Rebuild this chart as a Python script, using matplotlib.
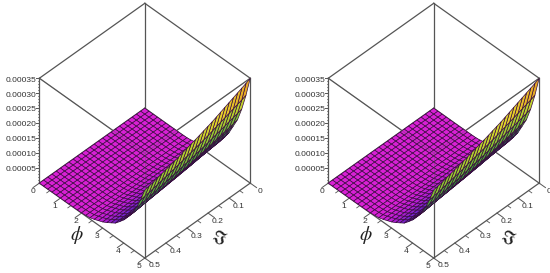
import numpy as np
import matplotlib
matplotlib.use('Agg')
import matplotlib.pyplot as plt
from matplotlib.colors import LinearSegmentedColormap
from mpl_toolkits.mplot3d import proj3d

plt.rcParams['font.family'] = ['Liberation Sans', 'DejaVu Sans']
plt.rcParams['mathtext.fontset'] = 'stix'

phi_vals = np.linspace(0, 5, 26)
xi_vals = np.linspace(0, 0.5, 26)
phi_profile = [0, 0, 0, 0, 0, 0, 0, .001, .001, .002, .004, .01, .02, .04, .065, .09,
               .125, .165, .205, .27, .34, .43, .52, .65, .81, 1.0]
xi_profile = [3.50, 3.43, 3.37, 3.31, 3.25, 3.19, 3.13, 3.07, 3.01, 2.95, 2.90, 2.85, 2.80,
              2.75, 2.71, 2.66, 2.62, 2.57, 2.53, 2.49, 2.45, 2.41, 2.37, 2.33, 2.30, 2.27]
z_scale = 1e-4
z_max = 0.00035
phi_ticks = [0, 1, 2, 3, 4, 5]
xi_ticks = [0, 0.1, 0.2, 0.3, 0.4, 0.5]
xi_ticklabels = ['0', '0.1', '0.2', '0.3', '0.4', '0.5']
z_ticks = [0.00005, 0.00010, 0.00015, 0.00020, 0.00025, 0.00030, 0.00035]
z_ticklabels = ['0.00005', '0.00010', '0.00015', '0.00020', '0.00025', '0.00030', '0.00035']
hue_levels = [0, .05, .12, .20, .28, .38, .55, .72, .88, 1]
hue_stops = ['#D820D4', '#B41CD4', '#6A22C8', '#2A3FC0', '#1A8F8A', '#2FA53A', '#8CCB2E',
             '#E6D62A', '#E88A22', '#B8452A']
panel_rects = [(-0.0037, -0.0127), (0.5216, -0.0127)]
zoom = 0.883

cmap = LinearSegmentedColormap.from_list('zhue', list(zip(hue_levels, hue_stops)))
LINE = '#555555'
TXT = '#333333'


def draw(rect):
    ax = fig.add_axes([rect[0], rect[1], 0.52, 1.04], projection='3d', proj_type='ortho',
                      computed_zorder=False)
    ax.view_init(elev=45.3, azim=45)
    ax.set_box_aspect((1, 1, 1), zoom=zoom)
    ax.set_ylim(0, 5); ax.set_xlim(0, 0.5); ax.set_zlim(0, z_max)
    ax.set_axis_off()
    ax.patch.set_alpha(0)
    X, P = np.meshgrid(xi_vals, phi_vals)
    Z = np.clip(np.outer(phi_profile, xi_profile) * z_scale, 0, z_max)
    M = ax.get_proj()

    def label(x, y, z, s, **kw):
        px, py, _ = proj3d.proj_transform(x, y, z, M)
        kw.setdefault('fontsize', 6.1)
        kw.setdefault('color', TXT)
        kw.setdefault('ha', 'center')
        kw.setdefault('va', 'center')
        ax.text2D(px, py, s, transform=ax.transData, **kw)

    def seg(a, b, z=1, alpha=1.0, lw=0.9):
        ax.plot([a[0], b[0]], [a[1], b[1]], [a[2], b[2]], color=LINE, lw=lw, alpha=alpha, zorder=z)

    corners = [(0, 0), (.5, 0), (.5, 5), (0, 5)]
    for i in range(4):
        a, b = corners[i], corners[(i + 1) % 4]
        seg((*a, 0), (*b, 0), 1)
        seg((*a, z_max), (*b, z_max), 1)
        seg((*a, 0), (*a, z_max), 1)
    ax.plot_surface(X, P, Z, facecolors=cmap(Z / z_max), rstride=1, cstride=1, shade=False,
                    edgecolor='#3a0c40', linewidth=0.5, antialiased=True, zorder=2)
    for a, b in [((.5, 5, 0), (.5, 5, z_max)), ((.5, 0, z_max), (.5, 5, z_max)), ((0, 5, z_max), (.5, 5, z_max))]:
        seg(a, b, 3, alpha=0.35, lw=0.7)

    for p in phi_ticks:
        seg((.5, p, 0), (.5 + .03, p, 0), 1, lw=0.7)
        label(.5 + .041, p + .125, 0, str(p))
        if p < 5:
            seg((.5, p + .5, 0), (.5 + .015, p + .5, 0), 1, lw=0.6)
    for x, l in zip(xi_ticks, xi_ticklabels):
        seg((x, 5, 0), (x, 5 + .3, 0), 1, lw=0.7)
        label(x + .003, 5.5, 0, l)
        if x < .5:
            seg((x + .05, 5, 0), (x + .05, 5 + .15, 0), 1, lw=0.6)
    for z, l in zip(z_ticks, z_ticklabels):
        seg((.5, 0, z), (.5 + .007, -.07, z), 1, lw=0.7)
        label(.5 + .007, -.07, z - .000006, l, ha='right')
        for k in range(1, 5):
            zm = z - k * 0.00001
            seg((.5, 0, zm), (.5 + .004, -.04, zm), 1, lw=0.5)
    label(.585, 2.62, 0, r'$\phi$', fontsize=14, color='#222222')
    label(.26, 6.08, 0, r'$\Im$', fontsize=13, color='#222222', rotation=-20)
    return ax


fig = plt.figure(figsize=(5.5, 2.73), dpi=100)
for r in panel_rects:
    draw(r)
fig.savefig('out.png', dpi=100)
